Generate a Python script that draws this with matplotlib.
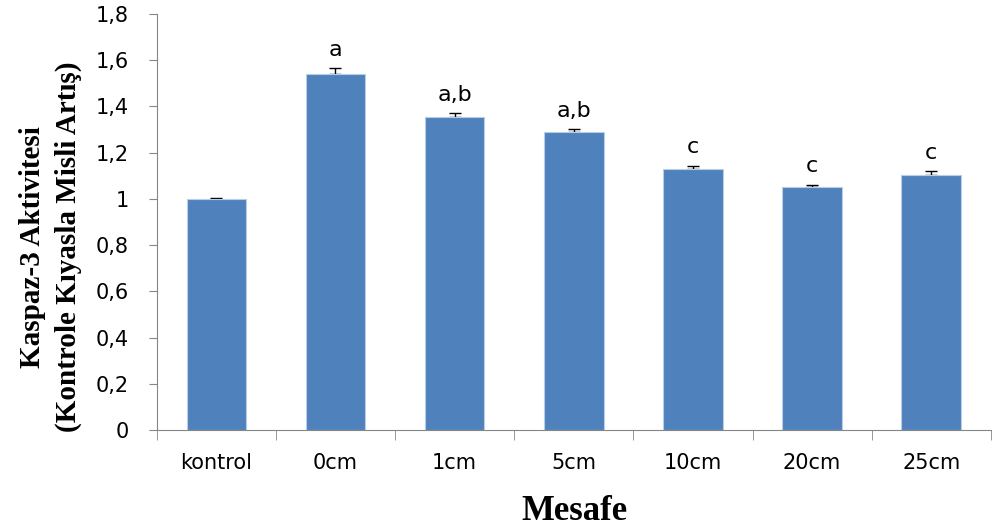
import matplotlib.pyplot as plt
from matplotlib.ticker import FuncFormatter, FixedLocator

categories = ['kontrol', '0cm', '1cm', '5cm', '10cm', '20cm', '25cm']
values = [1.0, 1.54, 1.355, 1.29, 1.13, 1.052, 1.103]
errors = [0.004, 0.026, 0.014, 0.012, 0.014, 0.01, 0.019]
letters = ['', 'a', 'a,b', 'a,b', 'c', 'c', 'c']

fig = plt.figure(figsize=(9.92, 5.28), dpi=100)
ax = fig.add_axes([0.158, 0.185, 0.842, 0.789])

x = range(len(categories))
ax.bar(x, values, width=0.5, color='#4F81BD', edgecolor='#B9CDE5', linewidth=0.8, zorder=2)
# error bars drawn under the bars so only the upper cap shows
ax.errorbar(x, values, yerr=[[0] * len(errors), errors], fmt='none', ecolor='black',
            elinewidth=1, capsize=4.5, capthick=1, zorder=1)

for i, (v, e, t) in enumerate(zip(values, errors, letters)):
    if t:
        ax.text(i, v + e + 0.035, t, ha='center', va='bottom', fontsize=16,
                family='DejaVu Sans')

ax.set_xlim(-0.5, 6.51)
ax.set_ylim(0, 1.8)
ax.set_yticks([0, 0.2, 0.4, 0.6, 0.8, 1.0, 1.2, 1.4, 1.6, 1.8])
ax.yaxis.set_major_formatter(FuncFormatter(
    lambda v, p: ('%g' % round(v, 1)).replace('.', ',')))
ax.set_xticks(list(x))
ax.set_xticklabels(categories)
ax.xaxis.set_minor_locator(FixedLocator([i - 0.5 for i in range(len(categories) + 1)]))

gray = '#868686'
for s in ['top', 'right']:
    ax.spines[s].set_visible(False)
ax.spines['left'].set_color(gray)
ax.spines['bottom'].set_color(gray)
ax.tick_params(axis='y', direction='out', length=6, color=gray, labelsize=15, pad=14)
ax.tick_params(axis='x', which='major', length=0, labelsize=15, pad=16)
ax.tick_params(axis='x', which='minor', direction='out', length=7, color=gray)

ax.set_xlabel('Mesafe', family='Liberation Serif', fontweight='bold', fontsize=25, labelpad=16)
ax.set_ylabel('Kaspaz-3 Aktivitesi\n(Kontrole Kıyasla Misli Artış)', family='Liberation Serif',
              fontweight='bold', fontsize=21, linespacing=1.4)
ax.yaxis.set_label_coords(-0.09, 0.44)

fig.savefig('out.png', dpi=100)
